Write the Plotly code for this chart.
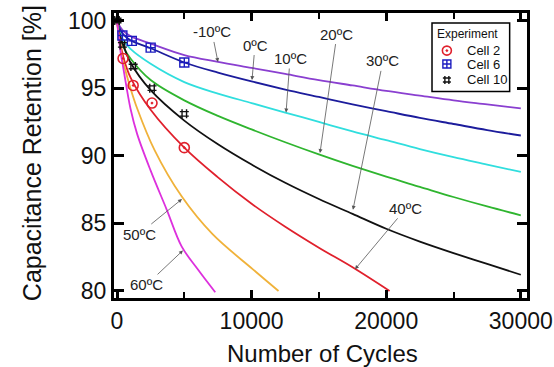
import plotly.graph_objects as go

# Model curves (cycles, capacitance retention %)
x_m10 = [0, 250, 500, 1000, 2500, 5000, 7500, 10000, 12500, 15000, 17500, 20000, 22500, 25000, 27500, 30000]
y_m10 = [100, 99.5, 99.2, 98.85, 98.3, 97.45, 96.95, 96.5, 96.05, 95.6, 95.2, 94.8, 94.45, 94.1, 93.8, 93.5]

x_0 = [0, 250, 500, 1000, 2500, 5000, 7500, 10000, 12500, 15000, 17500, 20000, 22500, 25000, 27500, 30000]
y_0 = [100, 99.3, 98.95, 98.55, 97.95, 96.9, 96.15, 95.5, 94.9, 94.35, 93.8, 93.3, 92.8, 92.35, 91.9, 91.5]

x_10 = [0, 250, 500, 1000, 2500, 5000, 7500, 10000, 12500, 15000, 17500, 20000, 22500, 25000, 27500, 30000]
y_10 = [100, 99.0, 98.5, 97.9, 96.8, 95.45, 94.6, 93.9, 93.2, 92.5, 91.8, 91.15, 90.5, 89.9, 89.35, 88.8]

x_20 = [0, 250, 500, 1000, 2500, 5000, 7500, 10000, 12500, 15000, 17500, 20000, 22500, 25000, 27500, 30000]
y_20 = [100, 98.7, 98.0, 97.2, 95.6, 94.1, 92.95, 91.95, 91.0, 90.1, 89.25, 88.45, 87.7, 86.95, 86.25, 85.6]

x_30 = [0, 250, 500, 1000, 2500, 5000, 7500, 10000, 12500, 15000, 17500, 20000, 22500, 25000, 27500, 30000]
y_30 = [100, 98.8, 98.1, 96.9, 94.85, 92.6, 90.85, 89.35, 88.0, 86.8, 85.7, 84.6, 83.65, 82.8, 82.0, 81.2]

x_40 = [0, 250, 500, 1000, 2500, 5000, 7500, 10000, 12500, 15000, 17500, 20250]
y_40 = [100, 98.3, 97.2, 95.8, 93.4, 90.6, 88.4, 86.45, 84.75, 83.2, 81.75, 80.0]

x_50 = [0, 250, 500, 1000, 1500, 2800, 4800, 7100, 10100, 12000]
y_50 = [100, 98.0, 96.8, 95.0, 93.5, 90.4, 87.0, 84.2, 81.6, 80.0]

x_60 = [0, 250, 500, 1000, 1500, 2500, 3700, 4800, 6000, 7300]
y_60 = [100, 97.8, 96.3, 93.5, 91.6, 88.9, 86.0, 83.3, 81.6, 79.9]

# Experimental points
cell2_x = [450, 1200, 2600, 5000]
cell2_y = [97.2, 95.2, 93.9, 90.6]
cell6_x = [400, 1100, 2500, 5000]
cell6_y = [98.9, 98.5, 98.0, 96.9]
cell10_x = [0, 400, 1200, 2600, 5000]
cell10_y = [100, 98.2, 96.6, 95.0, 93.1]

x_ticks = [0, 10000, 20000, 30000]
x_tick_text = ["0", "10000", "20000", "30000"]
y_ticks = [80, 85, 90, 95, 100]
y_tick_text = ["80", "85", "90", "95", "100"]

legend_names = ["Cell 2", "Cell 6", "Cell 10"]

RED, BLUE, BLACK = "#e0202c", "#1c1cc0", "#111111"
curves = [
    (x_m10, y_m10, "#8a3fd0"),
    (x_0, y_0, "#1c1c9c"),
    (x_10, y_10, "#30dede"),
    (x_20, y_20, "#2fb52f"),
    (x_30, y_30, BLACK),
    (x_40, y_40, RED),
    (x_50, y_50, "#f0b23a"),
    (x_60, y_60, "#dd30dd"),
]

FONT = "Liberation Sans, Arial, sans-serif"

fig = go.Figure()
for xs, ys, c in curves:
    fig.add_trace(go.Scatter(x=xs, y=ys, mode="lines",
                             line=dict(color=c, width=1.8, shape="spline", smoothing=1.0),
                             showlegend=False, hoverinfo="skip"))

sym = [
    dict(symbol="circle-open-dot", size=10, color=RED, line=dict(width=1.6, color=RED)),
    dict(symbol="square-cross-open", size=9, color=BLUE, line=dict(width=1.4, color=BLUE)),
    dict(symbol="hash-open", size=9, color=BLACK, line=dict(width=1.4, color=BLACK)),
]
for xs, ys, m, n in zip([cell2_x, cell6_x, cell10_x], [cell2_y, cell6_y, cell10_y], sym, legend_names):
    fig.add_trace(go.Scatter(x=xs, y=ys, mode="markers", name=n, marker=m, showlegend=False))

# Hand-made legend box (positions in plot-area fractions)
leg_x0, leg_x1, leg_y0, leg_y1 = 0.770, 0.958, 0.725, 0.965
leg_sym_x, leg_txt_x = 0.806, 0.850
leg_rows = [0.868, 0.821, 0.765]
fig.add_shape(type="rect", xref="paper", yref="paper", x0=leg_x0, x1=leg_x1, y0=leg_y0, y1=leg_y1,
              line=dict(color="black", width=1.5), fillcolor="white", layer="below")
for m, n, ry in zip(sym, legend_names, leg_rows):
    mm = dict(m)
    mm["size"] = m["size"] - 1
    fig.add_trace(go.Scatter(x=[leg_sym_x], y=[ry], xaxis="x2", yaxis="y2", mode="markers",
                             marker=mm, showlegend=False, hoverinfo="skip"))
    fig.add_annotation(xref="paper", yref="paper", x=leg_txt_x, y=ry, text=n, showarrow=False,
                       xanchor="left", yanchor="middle", font=dict(size=13, family=FONT, color="#111111"))
fig.add_annotation(xref="paper", yref="paper", x=0.778, y=0.925, text="Experiment", showarrow=False,
                   xanchor="left", yanchor="middle", font=dict(size=12, family=FONT, color="#111111"))

labels = [
    ("-10ºC", 7500, 96.94, -6, -30),
    ("0ºC", 10030, 95.6, 3, -35),
    ("10ºC", 12560, 93.2, 4, -54),
    ("20ºC", 15080, 90.2, 17, -119),
    ("30ºC", 17530, 86.0, 30, -149),
    ("40ºC", 17680, 81.6, 51, -61),
    ("50ºC", 4830, 86.8, -43, 35),
    ("60ºC", 4900, 83.0, -36, 34),
]
for t, x, y, ax, ay in labels:
    fig.add_annotation(x=x, y=y, text=t, ax=ax, ay=ay, showarrow=True,
                       arrowhead=2, arrowsize=1, arrowwidth=0.8, arrowcolor="#555555",
                       font=dict(size=15, color="#222222", family=FONT))

# Axis titles
fig.add_annotation(xref="paper", yref="paper", x=0.506, y=-0.193, text="Number of Cycles",
                   showarrow=False, xanchor="center", yanchor="middle",
                   font=dict(size=24, family=FONT, color="#111111"))
fig.add_annotation(xref="paper", yref="paper", x=-0.198, y=0.509, text="Capacitance Retention [%]",
                   showarrow=False, textangle=-90, xanchor="center", yanchor="middle",
                   font=dict(size=25, family=FONT, color="#111111"))

axis_common = dict(showline=True, linewidth=3, linecolor="black", mirror="ticks",
                   ticks="inside", tickcolor="black", showgrid=False, zeroline=False,
                   automargin=False,
                   tickfont=dict(size=23, color="#111111", family=FONT))

fig.update_layout(
    width=554, height=367,
    margin=dict(l=114, r=27, t=13, b=69),
    paper_bgcolor="white", plot_bgcolor="white",
    font=dict(family=FONT, color="#111111"),
    showlegend=False,
    xaxis=dict(range=[-223, 30460], tickvals=x_ticks, ticktext=x_tick_text,
               ticklen=8, tickwidth=2.5,
               minor=dict(dtick=5000, tick0=0, ticks="inside", ticklen=6, tickwidth=2, tickcolor="black"),
               **axis_common),
    yaxis=dict(range=[79.48, 100.56], tickvals=y_ticks, ticktext=y_tick_text,
               ticklen=10, tickwidth=2.5,
               **axis_common),
    xaxis2=dict(overlaying="x", range=[0, 1], visible=False, anchor="y2"),
    yaxis2=dict(overlaying="y", range=[0, 1], visible=False, anchor="x2"),
)

fig.write_html("out.html")
